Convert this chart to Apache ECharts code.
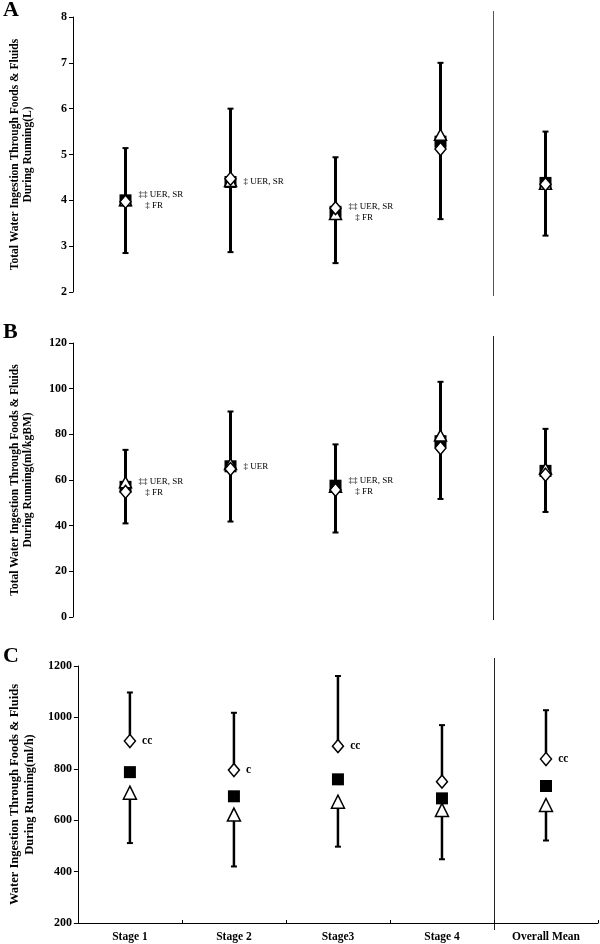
<!DOCTYPE html>
<html>
<head>
<meta charset="utf-8">
<script src="https://cdn.jsdelivr.net/npm/echarts@6/dist/echarts.min.js"></script>
<style>html,body{margin:0;padding:0;background:#fff}#c{width:600px;height:944px}</style>
</head>
<body>
<div id="c"></div>
<script>
// ---- data ----
const categories = ['Stage 1', 'Stage 2', 'Stage3', 'Stage 4', 'Overall Mean'];

// Panel A (L)
const squareA   = [4.00, 4.40, 3.75, 5.28, 4.38];
const triangleA = [4.00, 4.42, 3.70, 5.43, 4.36];
const diamondA  = [3.97, 4.47, 3.83, 5.12, 4.35];
const lowA      = [2.85, 2.87, 2.63, 3.59, 3.23];
const highA     = [5.14, 6.00, 4.94, 7.00, 5.50];
const noteA     = ['‡‡ UER, SR\n   ‡ FR', '‡ UER, SR', '‡‡ UER, SR\n   ‡ FR', '', ''];
const ticksA    = [2, 3, 4, 5, 6, 7, 8];

// Panel B (ml/kgBM)
const squareB   = [57.0, 66.0, 57.5, 77.0, 64.0];
const triangleB = [59.0, 67.0, 57.0, 79.5, 65.0];
const diamondB  = [54.8, 64.8, 55.7, 74.0, 62.3];
const lowB      = [41.0, 41.8, 37.0, 51.7, 46.0];
const highB     = [73.2, 90.0, 75.6, 103.0, 82.4];
const noteB     = ['‡‡ UER, SR\n   ‡ FR', '‡ UER', '‡‡ UER, SR\n   ‡ FR', '', ''];
const ticksB    = [0, 20, 40, 60, 80, 100, 120];

// Panel C (ml/h)
const squareC   = [787, 693, 759, 685, 733];
const triangleC = [707, 622, 672, 640, 659];
const diamondC  = [908, 795, 888, 750, 838];
const lowC      = [511, 420, 497, 448, 521];
const highC     = [1097, 1018, 1161, 970, 1028];
const noteC     = ['cc', 'c', 'cc', '', 'cc'];
const ticksC    = [200, 400, 600, 800, 1000, 1200];

const SERIF = '"Liberation Serif", "DejaVu Serif", serif';

// ---- chart ----
const chart = echarts.init(document.getElementById('c'));

const grids = [
  {left: 68, width: 530, top: 17, height: 275},
  {left: 68, width: 530, top: 343, height: 274},
  {left: 68, width: 530, top: 666, height: 257}
];

function yAxisDef(idx, ticks, name, nameSize, nameGap) {
  return {
    type: 'value', gridIndex: idx,
    min: ticks[0], max: ticks[ticks.length - 1], interval: ticks[1] - ticks[0],
    name: name, nameLocation: 'middle', nameRotate: 90, nameGap: nameGap,
    nameTextStyle: {fontFamily: SERIF, fontWeight: 'bold', fontSize: nameSize, color: '#000', lineHeight: nameSize + 2},
    axisLine: {show: true, lineStyle: {color: '#000', width: 1}},
    axisTick: {show: true, length: 4, lineStyle: {color: '#000'}},
    axisLabel: {fontFamily: SERIF, fontWeight: 'bold', fontSize: 12, color: '#000', margin: 6,
      formatter: v => String(v)},
    splitLine: {show: false}
  };
}

function xAxisDef(idx, visible) {
  return {
    type: 'category', gridIndex: idx, data: categories, boundaryGap: true,
    show: visible,
    axisLine: {show: visible, onZero: false, lineStyle: {color: '#000', width: 1}},
    axisTick: {show: visible, inside: true, length: 3, interval: 0, lineStyle: {color: '#000'}},
    axisLabel: {show: visible, fontFamily: SERIF, fontWeight: 'bold', fontSize: 11.5, color: '#000', margin: 8, interval: 0},
    splitLine: {show: false}
  };
}

function errRender(lineW) {
  return function (params, api) {
    const x = api.value(0);
    const p1 = api.coord([x, api.value(1)]);
    const p2 = api.coord([x, api.value(2)]);
    const cap = 3;
    const st = {stroke: '#000', lineWidth: lineW};
    const st2 = {stroke: '#000', lineWidth: 2};
    const children = [
      {type: 'line', shape: {x1: p1[0], y1: p1[1], x2: p2[0], y2: p2[1]}, style: st}
    ];
    if (api.value(3) & 1) children.push({type: 'line', shape: {x1: p1[0] - cap, y1: p1[1], x2: p1[0] + cap, y2: p1[1]}, style: st2});
    if (api.value(3) & 2) children.push({type: 'line', shape: {x1: p2[0] - cap, y1: p2[1], x2: p2[0] + cap, y2: p2[1]}, style: st2});
    return {type: 'group', children: children};
  };
}

function errSeries(idx, data, lineW) {
  return {
    type: 'custom', xAxisIndex: idx, yAxisIndex: idx,
    renderItem: errRender(lineW), data: data, z: 1, silent: true,
    encode: {x: 0, y: [1, 2]}
  };
}

function markerSeries(idx, values, symbol, size, fill, z, notes, noteStyle) {
  const s = {
    type: 'scatter', xAxisIndex: idx, yAxisIndex: idx,
    data: values.map((v, i) => [i, v]),
    symbol: symbol, symbolSize: size, z: z,
    itemStyle: {color: fill, borderColor: '#000', borderWidth: fill === '#000' ? 0 : 1.5, opacity: 1},
    silent: true
  };
  if (notes) {
    s.label = Object.assign({
      show: true, position: 'right',
      formatter: p => notes[p.dataIndex],
      color: '#000', fontFamily: SERIF
    }, noteStyle);
  }
  return s;
}

const noteStyleAB = {fontSize: 9, lineHeight: 11, distance: 7};
const noteStyleC = {fontSize: 11.5, fontWeight: 'bold', distance: 6};

const errA = categories.map((c, i) => [i, lowA[i], highA[i], 3]);
const errB = categories.map((c, i) => [i, lowB[i], highB[i], 3]);
const errC = [];
categories.forEach((c, i) => {
  errC.push([i, diamondC[i], highC[i], 2]);
  errC.push([i, lowC[i], triangleC[i], 1]);
});

const option = {
  animation: false,
  backgroundColor: '#fff',
  grid: grids,
  xAxis: [xAxisDef(0, false), xAxisDef(1, false), xAxisDef(2, true)],
  yAxis: [
    yAxisDef(0, ticksA, 'Total Water Ingestion Through Foods & Fluids\nDuring Running(L)', 11.5, 38),
    yAxisDef(1, ticksB, 'Total Water Ingestion Through Foods & Fluids\nDuring Running(ml/kgBM)', 11.5, 38),
    yAxisDef(2, ticksC, 'Water Ingestion Through Foods & Fluids\nDuring Running(ml/h)', 12.5, 40)
  ],
  series: [
    errSeries(0, errA, 3),
    markerSeries(0, squareA, 'rect', 12, '#000', 3, noteA, noteStyleAB),
    markerSeries(0, triangleA, 'triangle', [12, 11], '#fff', 4),
    markerSeries(0, diamondA, 'diamond', [11, 13], '#fff', 5),

    errSeries(1, errB, 3),
    markerSeries(1, squareB, 'rect', 12, '#000', 3, noteB, noteStyleAB),
    markerSeries(1, triangleB, 'triangle', [12, 11], '#fff', 4),
    markerSeries(1, diamondB, 'diamond', [11, 13], '#fff', 5),

    errSeries(2, errC, 2.5),
    markerSeries(2, squareC, 'rect', 12, '#000', 3),
    markerSeries(2, triangleC, 'triangle', [13, 13], '#fff', 4),
    markerSeries(2, diamondC, 'diamond', [11, 13], '#fff', 5, noteC, noteStyleC)
  ]
};
chart.setOption(option);

// panel letters and divider lines (between Stage 4 and Overall Mean)
const graphics = [];
['A', 'B', 'C'].forEach((t, k) => {
  graphics.push({type: 'text', left: 3, top: [-1, 321, 645][k],
    style: {text: t, fontFamily: SERIF, fontWeight: 'bold', fontSize: 22, fill: '#000'}});
});
const ext = [[-6, 4], [-7, 3], [-8, 7]];
for (let k = 0; k < 3; k++) {
  const a = chart.convertToPixel({xAxisIndex: k}, 3);
  const b = chart.convertToPixel({xAxisIndex: k}, 4);
  const xm = Math.round((a + b) / 2) + 0.5;
  const g = grids[k];
  graphics.push({type: 'line', shape: {x1: xm, y1: g.top + ext[k][0], x2: xm, y2: g.top + g.height + ext[k][1]},
    style: {stroke: k === 0 ? '#555' : '#222', lineWidth: 1}, z: 0});
}
chart.setOption({graphic: graphics});
</script>
</body>
</html>
